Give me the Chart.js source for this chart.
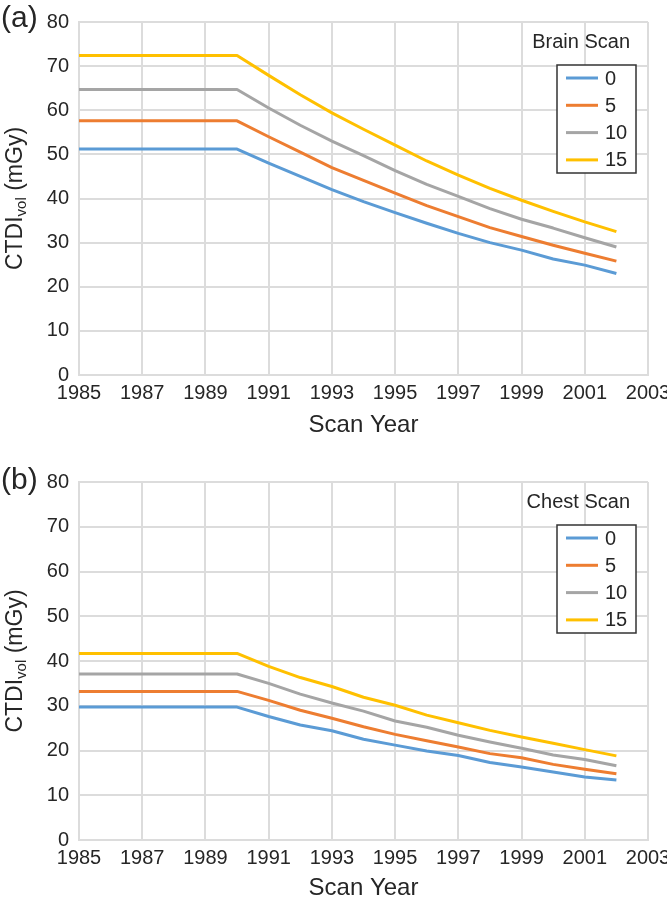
<!DOCTYPE html>
<html>
<head>
<meta charset="utf-8">
<script src="https://cdn.jsdelivr.net/npm/chart.js@4.4.0/dist/chart.umd.min.js"></script>
<style>
    html, body { margin: 0; padding: 0; background: #fff; }
    canvas { display: block; }
</style>
</head>
<body>
<canvas id="brainChart" width="667" height="460"></canvas>
<canvas id="chestChart" width="667" height="444"></canvas>
<script>
// scan years, one point per year
const years = [1985, 1986, 1987, 1988, 1989, 1990, 1991, 1992, 1993,
               1994, 1995, 1996, 1997, 1998, 1999, 2000, 2001, 2002];
const seriesLabels = ['0', '5', '10', '15'];
const seriesColors = ['#5B9BD5', '#ED7D31', '#A5A5A5', '#FFC000'];

// CTDIvol (mGy), brain scan
const brain0  = [51.2, 51.2, 51.2, 51.2, 51.2, 51.2, 48.0, 45.0, 42.0, 39.3, 36.8, 34.4, 32.1, 30.0, 28.3, 26.3, 24.9, 23.0];
const brain5  = [57.6, 57.6, 57.6, 57.6, 57.6, 57.6, 54.0, 50.5, 47.0, 44.1, 41.2, 38.4, 35.9, 33.4, 31.4, 29.4, 27.6, 25.8];
const brain10 = [64.7, 64.7, 64.7, 64.7, 64.7, 64.7, 60.5, 56.6, 53.0, 49.7, 46.3, 43.2, 40.5, 37.7, 35.3, 33.3, 31.1, 29.0];
const brain15 = [72.4, 72.4, 72.4, 72.4, 72.4, 72.4, 67.9, 63.5, 59.4, 55.7, 52.1, 48.5, 45.3, 42.3, 39.6, 37.1, 34.7, 32.5];

// CTDIvol (mGy), chest scan
const chest0  = [29.7, 29.7, 29.7, 29.7, 29.7, 29.7, 27.6, 25.7, 24.4, 22.5, 21.2, 19.9, 18.9, 17.3, 16.3, 15.2, 14.1, 13.4];
const chest5  = [33.2, 33.2, 33.2, 33.2, 33.2, 33.2, 31.2, 29.0, 27.2, 25.3, 23.6, 22.2, 20.8, 19.3, 18.4, 16.9, 15.8, 14.8];
const chest10 = [37.1, 37.1, 37.1, 37.1, 37.1, 37.1, 35.0, 32.6, 30.6, 28.8, 26.6, 25.2, 23.4, 21.9, 20.5, 19.0, 18.0, 16.6];
const chest15 = [41.7, 41.7, 41.7, 41.7, 41.7, 41.7, 38.8, 36.3, 34.3, 31.9, 30.1, 27.9, 26.2, 24.5, 23.0, 21.6, 20.2, 18.8];

// axis ranges
const xMin = 1985, xMax = 2003, xStep = 2;
const yMin = 0, yMax = 80, yStep = 10;

const FONT = '"Liberation Sans", Arial, sans-serif';
const TEXT = '#262626';
const GRID = '#dcdcdc';

// panel letter, y-axis title with subscript, and boxed legend
const panelDecor = {
    id: 'panelDecor',
    afterDraw(chart, args, opts) {
        const ctx = chart.ctx;
        const area = chart.chartArea;
        ctx.save();
        ctx.fillStyle = TEXT;

        // (a) / (b)
        ctx.font = '30px ' + FONT;
        ctx.textAlign = 'left';
        ctx.textBaseline = 'middle';
        ctx.fillText(opts.letter, 1, opts.letterY);

        // CTDI_vol (mGy), rotated
        const big = '23px ' + FONT, small = '15px ' + FONT;
        ctx.font = big;
        const w1 = ctx.measureText('CTDI').width;
        const w3 = ctx.measureText(' (mGy)').width;
        ctx.font = small;
        const w2 = ctx.measureText('vol').width;
        const total = w1 + w2 + w3;
        ctx.translate(16, (area.top + area.bottom) / 2);
        ctx.rotate(-Math.PI / 2);
        let x = -total / 2;
        ctx.font = big;
        ctx.fillText('CTDI', x, 0);
        x += w1;
        ctx.font = small;
        ctx.fillText('vol', x, 6);
        x += w2;
        ctx.font = big;
        ctx.fillText(' (mGy)', x, 0);
        ctx.setTransform(1, 0, 0, 1, 0, 0);

        // legend title
        ctx.font = '20px ' + FONT;
        ctx.textAlign = 'right';
        ctx.fillText(opts.title, area.right - 18, area.top + 20);

        // legend box
        const bx = area.right - 91, by = area.top + 43, bw = 79, bh = 108;
        ctx.fillStyle = '#fff';
        ctx.fillRect(bx, by, bw, bh);
        ctx.strokeStyle = '#333';
        ctx.lineWidth = 1.5;
        ctx.strokeRect(bx, by, bw, bh);

        ctx.textAlign = 'left';
        ctx.font = '20px ' + FONT;
        chart.data.datasets.forEach((ds, i) => {
            const yy = by + 13 + i * 27.3;
            ctx.strokeStyle = ds.borderColor;
            ctx.lineWidth = 3;
            ctx.beginPath();
            ctx.moveTo(bx + 9, yy);
            ctx.lineTo(bx + 41, yy);
            ctx.stroke();
            ctx.fillStyle = TEXT;
            ctx.fillText(ds.label, bx + 48, yy + 1);
        });
        ctx.restore();
    }
};

function makeChart(id, series, opts) {
    const ctx = document.getElementById(id).getContext('2d');
    return new Chart(ctx, {
        type: 'line',
        data: {
            datasets: series.map((values, i) => ({
                label: seriesLabels[i],
                data: years.map((yr, j) => ({ x: yr, y: values[j] })),
                borderColor: seriesColors[i],
                backgroundColor: seriesColors[i],
                borderWidth: 3,
                pointRadius: 0,
                borderJoinStyle: 'round',
                tension: 0
            }))
        },
        options: {
            responsive: false,
            animation: false,
            layout: { padding: { left: 0, right: 19, top: 22, bottom: 0 } },
            plugins: {
                legend: { display: false },
                tooltip: { enabled: false },
                panelDecor: opts
            },
            scales: {
                x: {
                    type: 'linear',
                    min: xMin,
                    max: xMax,
                    ticks: {
                        stepSize: xStep,
                        padding: 6,
                        color: TEXT,
                        font: { family: FONT, size: 20 },
                        callback: v => String(v),
                        maxRotation: 0
                    },
                    grid: { color: GRID, lineWidth: 2, drawTicks: false },
                    border: { color: GRID, width: 2 },
                    title: {
                        display: true,
                        text: 'Scan Year',
                        color: TEXT,
                        font: { family: FONT, size: 24 },
                        padding: { top: 0, bottom: opts.xTitlePad }
                    },
                    afterFit(scale) {
                        scale.height = opts.xAxisHeight;
                        scale.paddingLeft = 0;
                        scale.paddingRight = 0;
                    }
                },
                y: {
                    min: yMin,
                    max: yMax,
                    ticks: {
                        stepSize: yStep,
                        padding: 10,
                        color: TEXT,
                        font: { family: FONT, size: 20 }
                    },
                    grid: { color: GRID, lineWidth: 2, drawTicks: false },
                    border: { color: GRID, width: 2 },
                    afterFit(scale) {
                        scale.width = 79;
                    }
                }
            }
        },
        plugins: [panelDecor]
    });
}

makeChart('brainChart', [brain0, brain5, brain10, brain15], {
    letter: '(a)', letterY: 19, title: 'Brain Scan', xAxisHeight: 85, xTitlePad: 20
});
makeChart('chestChart', [chest0, chest5, chest10, chest15], {
    letter: '(b)', letterY: 21, title: 'Chest Scan', xAxisHeight: 64, xTitlePad: 1
});
</script>
</body>
</html>
